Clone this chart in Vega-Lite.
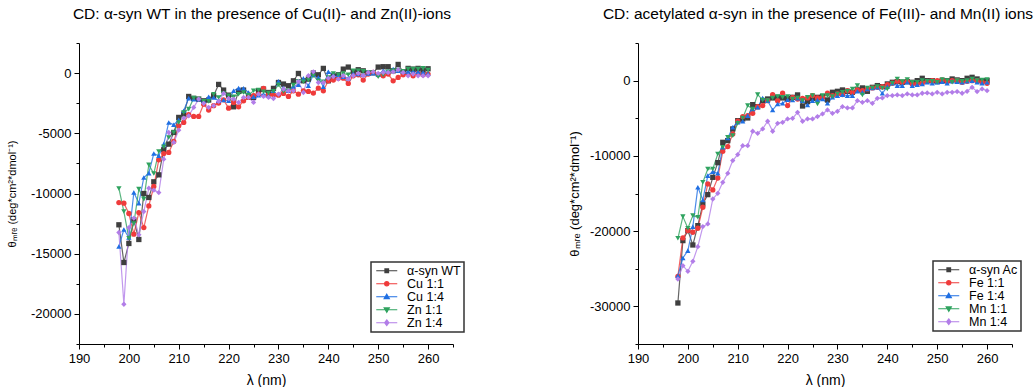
{
"$schema": "https://vega.github.io/schema/vega-lite/v6.json",
"bounds": "flush",
"spacing": 185,
"padding": {"left": 6, "top": 6, "right": 0, "bottom": 0},
"config": {
  "view": {"stroke": null},
  "font": "Liberation Sans",
  "axis": {"grid": false, "domainColor": "#000", "tickColor": "#000", "labelColor": "#000", "titleColor": "#000", "labelFont": "Liberation Sans", "titleFont": "Liberation Sans", "titleFontWeight": "normal", "labelFontSize": 13, "domainWidth": 1, "tickWidth": 1},
  "title": {"font": "Liberation Sans", "fontSize": 15.5, "fontWeight": "normal", "color": "#000", "baseline": "alphabetic", "offset": 15, "anchor": "middle"},
  "legend": {"labelFont": "Liberation Sans", "labelFontSize": 12.5, "labelColor": "#000", "strokeColor": "#333", "strokeWidth": 1.5, "fillColor": "#fff", "padding": 2.5, "rowPadding": 0, "symbolSize": 36, "symbolOffset": 7, "labelOffset": 14, "symbolStrokeWidth": 1.2}
},
"datasets": {
"L": [
{"s":"α-syn WT","x":198,"y":-12600},{"s":"α-syn WT","x":199,"y":-15730},{"s":"α-syn WT","x":200,"y":-14150},{"s":"α-syn WT","x":201,"y":-12200},{"s":"α-syn WT","x":202,"y":-13820},{"s":"α-syn WT","x":203,"y":-10000},{"s":"α-syn WT","x":204,"y":-10330},{"s":"α-syn WT","x":205,"y":-9030},{"s":"α-syn WT","x":206,"y":-8450},{"s":"α-syn WT","x":207,"y":-6370},{"s":"α-syn WT","x":208,"y":-5900},{"s":"α-syn WT","x":209,"y":-4930},{"s":"α-syn WT","x":210,"y":-3680},{"s":"α-syn WT","x":211,"y":-3400},{"s":"α-syn WT","x":212,"y":-1940},{"s":"α-syn WT","x":213,"y":-2100},{"s":"α-syn WT","x":214,"y":-2160},{"s":"α-syn WT","x":215,"y":-2300},{"s":"α-syn WT","x":216,"y":-2240},{"s":"α-syn WT","x":217,"y":-1880},{"s":"α-syn WT","x":218,"y":-940},{"s":"α-syn WT","x":219,"y":-1410},{"s":"α-syn WT","x":220,"y":-1830},{"s":"α-syn WT","x":221,"y":-2800},{"s":"α-syn WT","x":222,"y":-1520},{"s":"α-syn WT","x":223,"y":-1410},{"s":"α-syn WT","x":224,"y":-1970},{"s":"α-syn WT","x":225,"y":-2020},{"s":"α-syn WT","x":226,"y":-1470},{"s":"α-syn WT","x":227,"y":-1330},{"s":"α-syn WT","x":228,"y":-1610},{"s":"α-syn WT","x":229,"y":-1270},{"s":"α-syn WT","x":230,"y":-780},{"s":"α-syn WT","x":231,"y":-910},{"s":"α-syn WT","x":232,"y":-1050},{"s":"α-syn WT","x":233,"y":-640},{"s":"α-syn WT","x":234,"y":-30},{"s":"α-syn WT","x":235,"y":-640},{"s":"α-syn WT","x":236,"y":-500},{"s":"α-syn WT","x":237,"y":0},{"s":"α-syn WT","x":238,"y":-140},{"s":"α-syn WT","x":239,"y":390},{"s":"α-syn WT","x":240,"y":-640},{"s":"α-syn WT","x":241,"y":-250},{"s":"α-syn WT","x":242,"y":-140},{"s":"α-syn WT","x":243,"y":330},{"s":"α-syn WT","x":244,"y":500},{"s":"α-syn WT","x":245,"y":110},{"s":"α-syn WT","x":246,"y":280},{"s":"α-syn WT","x":247,"y":190},{"s":"α-syn WT","x":248,"y":0},{"s":"α-syn WT","x":249,"y":30},{"s":"α-syn WT","x":250,"y":500},{"s":"α-syn WT","x":251,"y":530},{"s":"α-syn WT","x":252,"y":530},{"s":"α-syn WT","x":253,"y":190},{"s":"α-syn WT","x":254,"y":720},{"s":"α-syn WT","x":255,"y":110},{"s":"α-syn WT","x":256,"y":390},{"s":"α-syn WT","x":257,"y":330},{"s":"α-syn WT","x":258,"y":390},{"s":"α-syn WT","x":259,"y":250},{"s":"α-syn WT","x":260,"y":360},
{"s":"Cu 1:1","x":198,"y":-10750},{"s":"Cu 1:1","x":199,"y":-10800},{"s":"Cu 1:1","x":200,"y":-11660},{"s":"Cu 1:1","x":201,"y":-13380},{"s":"Cu 1:1","x":202,"y":-11580},{"s":"Cu 1:1","x":203,"y":-12830},{"s":"Cu 1:1","x":204,"y":-11030},{"s":"Cu 1:1","x":205,"y":-9420},{"s":"Cu 1:1","x":206,"y":-7200},{"s":"Cu 1:1","x":207,"y":-6680},{"s":"Cu 1:1","x":208,"y":-6590},{"s":"Cu 1:1","x":209,"y":-5680},{"s":"Cu 1:1","x":210,"y":-4380},{"s":"Cu 1:1","x":211,"y":-4100},{"s":"Cu 1:1","x":212,"y":-3460},{"s":"Cu 1:1","x":213,"y":-3600},{"s":"Cu 1:1","x":214,"y":-3600},{"s":"Cu 1:1","x":215,"y":-2580},{"s":"Cu 1:1","x":216,"y":-3070},{"s":"Cu 1:1","x":217,"y":-2710},{"s":"Cu 1:1","x":218,"y":-2490},{"s":"Cu 1:1","x":219,"y":-2220},{"s":"Cu 1:1","x":220,"y":-2910},{"s":"Cu 1:1","x":221,"y":-2440},{"s":"Cu 1:1","x":222,"y":-2800},{"s":"Cu 1:1","x":223,"y":-2300},{"s":"Cu 1:1","x":224,"y":-2020},{"s":"Cu 1:1","x":225,"y":-1880},{"s":"Cu 1:1","x":226,"y":-1750},{"s":"Cu 1:1","x":227,"y":-1270},{"s":"Cu 1:1","x":228,"y":-1800},{"s":"Cu 1:1","x":229,"y":-1800},{"s":"Cu 1:1","x":230,"y":-1830},{"s":"Cu 1:1","x":231,"y":-1690},{"s":"Cu 1:1","x":232,"y":-1940},{"s":"Cu 1:1","x":233,"y":-1470},{"s":"Cu 1:1","x":234,"y":-1750},{"s":"Cu 1:1","x":235,"y":-1470},{"s":"Cu 1:1","x":236,"y":-1520},{"s":"Cu 1:1","x":237,"y":-1660},{"s":"Cu 1:1","x":238,"y":-1250},{"s":"Cu 1:1","x":239,"y":-1470},{"s":"Cu 1:1","x":240,"y":-640},{"s":"Cu 1:1","x":241,"y":-580},{"s":"Cu 1:1","x":242,"y":-420},{"s":"Cu 1:1","x":243,"y":-420},{"s":"Cu 1:1","x":244,"y":-860},{"s":"Cu 1:1","x":245,"y":-220},{"s":"Cu 1:1","x":246,"y":-140},{"s":"Cu 1:1","x":247,"y":-580},{"s":"Cu 1:1","x":248,"y":-80},{"s":"Cu 1:1","x":249,"y":50},{"s":"Cu 1:1","x":250,"y":-140},{"s":"Cu 1:1","x":251,"y":-220},{"s":"Cu 1:1","x":252,"y":-80},{"s":"Cu 1:1","x":253,"y":-640},{"s":"Cu 1:1","x":254,"y":-360},{"s":"Cu 1:1","x":255,"y":-140},{"s":"Cu 1:1","x":256,"y":-80},{"s":"Cu 1:1","x":257,"y":-220},{"s":"Cu 1:1","x":258,"y":-30},{"s":"Cu 1:1","x":259,"y":-140},{"s":"Cu 1:1","x":260,"y":-80},
{"s":"Cu 1:4","x":198,"y":-14400},{"s":"Cu 1:4","x":199,"y":-12990},{"s":"Cu 1:4","x":200,"y":-13660},{"s":"Cu 1:4","x":201,"y":-9920},{"s":"Cu 1:4","x":202,"y":-10800},{"s":"Cu 1:4","x":203,"y":-8670},{"s":"Cu 1:4","x":204,"y":-8310},{"s":"Cu 1:4","x":205,"y":-6680},{"s":"Cu 1:4","x":206,"y":-6870},{"s":"Cu 1:4","x":207,"y":-5900},{"s":"Cu 1:4","x":208,"y":-4100},{"s":"Cu 1:4","x":209,"y":-4290},{"s":"Cu 1:4","x":210,"y":-3880},{"s":"Cu 1:4","x":211,"y":-3130},{"s":"Cu 1:4","x":212,"y":-2080},{"s":"Cu 1:4","x":213,"y":-2160},{"s":"Cu 1:4","x":214,"y":-2160},{"s":"Cu 1:4","x":215,"y":-2300},{"s":"Cu 1:4","x":216,"y":-1970},{"s":"Cu 1:4","x":217,"y":-2020},{"s":"Cu 1:4","x":218,"y":-2300},{"s":"Cu 1:4","x":219,"y":-2240},{"s":"Cu 1:4","x":220,"y":-2300},{"s":"Cu 1:4","x":221,"y":-1470},{"s":"Cu 1:4","x":222,"y":-1250},{"s":"Cu 1:4","x":223,"y":-1270},{"s":"Cu 1:4","x":224,"y":-1610},{"s":"Cu 1:4","x":225,"y":-1970},{"s":"Cu 1:4","x":226,"y":-1830},{"s":"Cu 1:4","x":227,"y":-1750},{"s":"Cu 1:4","x":228,"y":-1880},{"s":"Cu 1:4","x":229,"y":-1470},{"s":"Cu 1:4","x":230,"y":-690},{"s":"Cu 1:4","x":231,"y":-1250},{"s":"Cu 1:4","x":232,"y":-1470},{"s":"Cu 1:4","x":233,"y":-1110},{"s":"Cu 1:4","x":234,"y":-970},{"s":"Cu 1:4","x":235,"y":-440},{"s":"Cu 1:4","x":236,"y":-1050},{"s":"Cu 1:4","x":237,"y":-140},{"s":"Cu 1:4","x":238,"y":-360},{"s":"Cu 1:4","x":239,"y":-1140},{"s":"Cu 1:4","x":240,"y":110},{"s":"Cu 1:4","x":241,"y":-140},{"s":"Cu 1:4","x":242,"y":-140},{"s":"Cu 1:4","x":243,"y":-300},{"s":"Cu 1:4","x":244,"y":-420},{"s":"Cu 1:4","x":245,"y":-30},{"s":"Cu 1:4","x":246,"y":-80},{"s":"Cu 1:4","x":247,"y":-140},{"s":"Cu 1:4","x":248,"y":-30},{"s":"Cu 1:4","x":249,"y":0},{"s":"Cu 1:4","x":250,"y":-140},{"s":"Cu 1:4","x":251,"y":190},{"s":"Cu 1:4","x":252,"y":140},{"s":"Cu 1:4","x":253,"y":330},{"s":"Cu 1:4","x":254,"y":190},{"s":"Cu 1:4","x":255,"y":140},{"s":"Cu 1:4","x":256,"y":110},{"s":"Cu 1:4","x":257,"y":140},{"s":"Cu 1:4","x":258,"y":110},{"s":"Cu 1:4","x":259,"y":50},{"s":"Cu 1:4","x":260,"y":-30},
{"s":"Zn 1:1","x":198,"y":-9580},{"s":"Zn 1:1","x":199,"y":-11500},{"s":"Zn 1:1","x":200,"y":-13710},{"s":"Zn 1:1","x":201,"y":-12490},{"s":"Zn 1:1","x":202,"y":-9640},{"s":"Zn 1:1","x":203,"y":-10470},{"s":"Zn 1:1","x":204,"y":-7620},{"s":"Zn 1:1","x":205,"y":-8340},{"s":"Zn 1:1","x":206,"y":-6510},{"s":"Zn 1:1","x":207,"y":-6120},{"s":"Zn 1:1","x":208,"y":-5350},{"s":"Zn 1:1","x":209,"y":-4930},{"s":"Zn 1:1","x":210,"y":-4100},{"s":"Zn 1:1","x":211,"y":-3270},{"s":"Zn 1:1","x":212,"y":-2990},{"s":"Zn 1:1","x":213,"y":-2080},{"s":"Zn 1:1","x":214,"y":-2160},{"s":"Zn 1:1","x":215,"y":-2350},{"s":"Zn 1:1","x":216,"y":-2350},{"s":"Zn 1:1","x":217,"y":-1750},{"s":"Zn 1:1","x":218,"y":-2020},{"s":"Zn 1:1","x":219,"y":-1690},{"s":"Zn 1:1","x":220,"y":-1880},{"s":"Zn 1:1","x":221,"y":-1970},{"s":"Zn 1:1","x":222,"y":-1750},{"s":"Zn 1:1","x":223,"y":-1610},{"s":"Zn 1:1","x":224,"y":-1830},{"s":"Zn 1:1","x":225,"y":-1470},{"s":"Zn 1:1","x":226,"y":-1410},{"s":"Zn 1:1","x":227,"y":-1550},{"s":"Zn 1:1","x":228,"y":-1660},{"s":"Zn 1:1","x":229,"y":-1520},{"s":"Zn 1:1","x":230,"y":-970},{"s":"Zn 1:1","x":231,"y":-1520},{"s":"Zn 1:1","x":232,"y":-1470},{"s":"Zn 1:1","x":233,"y":-1000},{"s":"Zn 1:1","x":234,"y":-690},{"s":"Zn 1:1","x":235,"y":-720},{"s":"Zn 1:1","x":236,"y":-580},{"s":"Zn 1:1","x":237,"y":-220},{"s":"Zn 1:1","x":238,"y":-640},{"s":"Zn 1:1","x":239,"y":-720},{"s":"Zn 1:1","x":240,"y":-360},{"s":"Zn 1:1","x":241,"y":-30},{"s":"Zn 1:1","x":242,"y":-140},{"s":"Zn 1:1","x":243,"y":-30},{"s":"Zn 1:1","x":244,"y":-140},{"s":"Zn 1:1","x":245,"y":190},{"s":"Zn 1:1","x":246,"y":190},{"s":"Zn 1:1","x":247,"y":140},{"s":"Zn 1:1","x":248,"y":50},{"s":"Zn 1:1","x":249,"y":50},{"s":"Zn 1:1","x":250,"y":-300},{"s":"Zn 1:1","x":251,"y":-140},{"s":"Zn 1:1","x":252,"y":110},{"s":"Zn 1:1","x":253,"y":190},{"s":"Zn 1:1","x":254,"y":250},{"s":"Zn 1:1","x":255,"y":140},{"s":"Zn 1:1","x":256,"y":330},{"s":"Zn 1:1","x":257,"y":330},{"s":"Zn 1:1","x":258,"y":330},{"s":"Zn 1:1","x":259,"y":390},{"s":"Zn 1:1","x":260,"y":250},
{"s":"Zn 1:4","x":198,"y":-13240},{"s":"Zn 1:4","x":199,"y":-19200},{"s":"Zn 1:4","x":200,"y":-12830},{"s":"Zn 1:4","x":201,"y":-12050},{"s":"Zn 1:4","x":202,"y":-13430},{"s":"Zn 1:4","x":203,"y":-11500},{"s":"Zn 1:4","x":204,"y":-9560},{"s":"Zn 1:4","x":205,"y":-9720},{"s":"Zn 1:4","x":206,"y":-9920},{"s":"Zn 1:4","x":207,"y":-7150},{"s":"Zn 1:4","x":208,"y":-4930},{"s":"Zn 1:4","x":209,"y":-5760},{"s":"Zn 1:4","x":210,"y":-4740},{"s":"Zn 1:4","x":211,"y":-3740},{"s":"Zn 1:4","x":212,"y":-3550},{"s":"Zn 1:4","x":213,"y":-2850},{"s":"Zn 1:4","x":214,"y":-2160},{"s":"Zn 1:4","x":215,"y":-2520},{"s":"Zn 1:4","x":216,"y":-2850},{"s":"Zn 1:4","x":217,"y":-2710},{"s":"Zn 1:4","x":218,"y":-2350},{"s":"Zn 1:4","x":219,"y":-1690},{"s":"Zn 1:4","x":220,"y":-2110},{"s":"Zn 1:4","x":221,"y":-2160},{"s":"Zn 1:4","x":222,"y":-2440},{"s":"Zn 1:4","x":223,"y":-2020},{"s":"Zn 1:4","x":224,"y":-2020},{"s":"Zn 1:4","x":225,"y":-2440},{"s":"Zn 1:4","x":226,"y":-1750},{"s":"Zn 1:4","x":227,"y":-1940},{"s":"Zn 1:4","x":228,"y":-2020},{"s":"Zn 1:4","x":229,"y":-2110},{"s":"Zn 1:4","x":230,"y":-1750},{"s":"Zn 1:4","x":231,"y":-1330},{"s":"Zn 1:4","x":232,"y":-1470},{"s":"Zn 1:4","x":233,"y":-1470},{"s":"Zn 1:4","x":234,"y":-690},{"s":"Zn 1:4","x":235,"y":-1610},{"s":"Zn 1:4","x":236,"y":-220},{"s":"Zn 1:4","x":237,"y":110},{"s":"Zn 1:4","x":238,"y":-780},{"s":"Zn 1:4","x":239,"y":-780},{"s":"Zn 1:4","x":240,"y":-420},{"s":"Zn 1:4","x":241,"y":-300},{"s":"Zn 1:4","x":242,"y":-500},{"s":"Zn 1:4","x":243,"y":-220},{"s":"Zn 1:4","x":244,"y":-500},{"s":"Zn 1:4","x":245,"y":-220},{"s":"Zn 1:4","x":246,"y":-30},{"s":"Zn 1:4","x":247,"y":-220},{"s":"Zn 1:4","x":248,"y":50},{"s":"Zn 1:4","x":249,"y":110},{"s":"Zn 1:4","x":250,"y":-30},{"s":"Zn 1:4","x":251,"y":50},{"s":"Zn 1:4","x":252,"y":50},{"s":"Zn 1:4","x":253,"y":110},{"s":"Zn 1:4","x":254,"y":280},{"s":"Zn 1:4","x":255,"y":50},{"s":"Zn 1:4","x":256,"y":-220},{"s":"Zn 1:4","x":257,"y":-80},{"s":"Zn 1:4","x":258,"y":-220},{"s":"Zn 1:4","x":259,"y":-220},{"s":"Zn 1:4","x":260,"y":-220}
],
"R": [
{"s":"α-syn Ac","x":198,"y":-29550},{"s":"α-syn Ac","x":199,"y":-21260},{"s":"α-syn Ac","x":200,"y":-19930},{"s":"α-syn Ac","x":201,"y":-21840},{"s":"α-syn Ac","x":202,"y":-19270},{"s":"α-syn Ac","x":203,"y":-16390},{"s":"α-syn Ac","x":204,"y":-15150},{"s":"α-syn Ac","x":205,"y":-12850},{"s":"α-syn Ac","x":206,"y":-10900},{"s":"α-syn Ac","x":207,"y":-8200},{"s":"α-syn Ac","x":208,"y":-7970},{"s":"α-syn Ac","x":209,"y":-6420},{"s":"α-syn Ac","x":210,"y":-5320},{"s":"α-syn Ac","x":211,"y":-5090},{"s":"α-syn Ac","x":212,"y":-4960},{"s":"α-syn Ac","x":213,"y":-3190},{"s":"α-syn Ac","x":214,"y":-3460},{"s":"α-syn Ac","x":215,"y":-2660},{"s":"α-syn Ac","x":216,"y":-2440},{"s":"α-syn Ac","x":217,"y":-2300},{"s":"α-syn Ac","x":218,"y":-2220},{"s":"α-syn Ac","x":219,"y":-2300},{"s":"α-syn Ac","x":220,"y":-2350},{"s":"α-syn Ac","x":221,"y":-2220},{"s":"α-syn Ac","x":222,"y":-1900},{"s":"α-syn Ac","x":223,"y":-3370},{"s":"α-syn Ac","x":224,"y":-2790},{"s":"α-syn Ac","x":225,"y":-2350},{"s":"α-syn Ac","x":226,"y":-2220},{"s":"α-syn Ac","x":227,"y":-2130},{"s":"α-syn Ac","x":228,"y":-2570},{"s":"α-syn Ac","x":229,"y":-1550},{"s":"α-syn Ac","x":230,"y":-1420},{"s":"α-syn Ac","x":231,"y":-1240},{"s":"α-syn Ac","x":232,"y":-1420},{"s":"α-syn Ac","x":233,"y":-1550},{"s":"α-syn Ac","x":234,"y":-1240},{"s":"α-syn Ac","x":235,"y":-970},{"s":"α-syn Ac","x":236,"y":-1420},{"s":"α-syn Ac","x":237,"y":-890},{"s":"α-syn Ac","x":238,"y":-660},{"s":"α-syn Ac","x":239,"y":-800},{"s":"α-syn Ac","x":240,"y":-440},{"s":"α-syn Ac","x":241,"y":-220},{"s":"α-syn Ac","x":242,"y":-130},{"s":"α-syn Ac","x":243,"y":-220},{"s":"α-syn Ac","x":244,"y":-130},{"s":"α-syn Ac","x":245,"y":-220},{"s":"α-syn Ac","x":246,"y":0},{"s":"α-syn Ac","x":247,"y":310},{"s":"α-syn Ac","x":248,"y":0},{"s":"α-syn Ac","x":249,"y":0},{"s":"α-syn Ac","x":250,"y":-130},{"s":"α-syn Ac","x":251,"y":0},{"s":"α-syn Ac","x":252,"y":0},{"s":"α-syn Ac","x":253,"y":220},{"s":"α-syn Ac","x":254,"y":90},{"s":"α-syn Ac","x":255,"y":0},{"s":"α-syn Ac","x":256,"y":310},{"s":"α-syn Ac","x":257,"y":440},{"s":"α-syn Ac","x":258,"y":220},{"s":"α-syn Ac","x":259,"y":0},{"s":"α-syn Ac","x":260,"y":0},
{"s":"Fe 1:1","x":198,"y":-26000},{"s":"Fe 1:1","x":199,"y":-20900},{"s":"Fe 1:1","x":200,"y":-19930},{"s":"Fe 1:1","x":201,"y":-20150},{"s":"Fe 1:1","x":202,"y":-19620},{"s":"Fe 1:1","x":203,"y":-16830},{"s":"Fe 1:1","x":204,"y":-13730},{"s":"Fe 1:1","x":205,"y":-14530},{"s":"Fe 1:1","x":206,"y":-12940},{"s":"Fe 1:1","x":207,"y":-9390},{"s":"Fe 1:1","x":208,"y":-8770},{"s":"Fe 1:1","x":209,"y":-7090},{"s":"Fe 1:1","x":210,"y":-5400},{"s":"Fe 1:1","x":211,"y":-4780},{"s":"Fe 1:1","x":212,"y":-4650},{"s":"Fe 1:1","x":213,"y":-4340},{"s":"Fe 1:1","x":214,"y":-3460},{"s":"Fe 1:1","x":215,"y":-3320},{"s":"Fe 1:1","x":216,"y":-2660},{"s":"Fe 1:1","x":217,"y":-1860},{"s":"Fe 1:1","x":218,"y":-2660},{"s":"Fe 1:1","x":219,"y":-1680},{"s":"Fe 1:1","x":220,"y":-3320},{"s":"Fe 1:1","x":221,"y":-2220},{"s":"Fe 1:1","x":222,"y":-2440},{"s":"Fe 1:1","x":223,"y":-2350},{"s":"Fe 1:1","x":224,"y":-2300},{"s":"Fe 1:1","x":225,"y":-1990},{"s":"Fe 1:1","x":226,"y":-2300},{"s":"Fe 1:1","x":227,"y":-2220},{"s":"Fe 1:1","x":228,"y":-1680},{"s":"Fe 1:1","x":229,"y":-1990},{"s":"Fe 1:1","x":230,"y":-1770},{"s":"Fe 1:1","x":231,"y":-1860},{"s":"Fe 1:1","x":232,"y":-1330},{"s":"Fe 1:1","x":233,"y":-1550},{"s":"Fe 1:1","x":234,"y":-1240},{"s":"Fe 1:1","x":235,"y":-1330},{"s":"Fe 1:1","x":236,"y":-1110},{"s":"Fe 1:1","x":237,"y":-970},{"s":"Fe 1:1","x":238,"y":-890},{"s":"Fe 1:1","x":239,"y":-800},{"s":"Fe 1:1","x":240,"y":-530},{"s":"Fe 1:1","x":241,"y":-350},{"s":"Fe 1:1","x":242,"y":-90},{"s":"Fe 1:1","x":243,"y":-220},{"s":"Fe 1:1","x":244,"y":-90},{"s":"Fe 1:1","x":245,"y":-440},{"s":"Fe 1:1","x":246,"y":-440},{"s":"Fe 1:1","x":247,"y":-350},{"s":"Fe 1:1","x":248,"y":-90},{"s":"Fe 1:1","x":249,"y":0},{"s":"Fe 1:1","x":250,"y":0},{"s":"Fe 1:1","x":251,"y":90},{"s":"Fe 1:1","x":252,"y":-90},{"s":"Fe 1:1","x":253,"y":0},{"s":"Fe 1:1","x":254,"y":0},{"s":"Fe 1:1","x":255,"y":-220},{"s":"Fe 1:1","x":256,"y":-90},{"s":"Fe 1:1","x":257,"y":0},{"s":"Fe 1:1","x":258,"y":0},{"s":"Fe 1:1","x":259,"y":-220},{"s":"Fe 1:1","x":260,"y":-350},
{"s":"Fe 1:4","x":198,"y":-25920},{"s":"Fe 1:4","x":199,"y":-23570},{"s":"Fe 1:4","x":200,"y":-22590},{"s":"Fe 1:4","x":201,"y":-19400},{"s":"Fe 1:4","x":202,"y":-14180},{"s":"Fe 1:4","x":203,"y":-15860},{"s":"Fe 1:4","x":204,"y":-12630},{"s":"Fe 1:4","x":205,"y":-12090},{"s":"Fe 1:4","x":206,"y":-12320},{"s":"Fe 1:4","x":207,"y":-8860},{"s":"Fe 1:4","x":208,"y":-7620},{"s":"Fe 1:4","x":209,"y":-6200},{"s":"Fe 1:4","x":210,"y":-5540},{"s":"Fe 1:4","x":211,"y":-5400},{"s":"Fe 1:4","x":212,"y":-4650},{"s":"Fe 1:4","x":213,"y":-3770},{"s":"Fe 1:4","x":214,"y":-3540},{"s":"Fe 1:4","x":215,"y":-2300},{"s":"Fe 1:4","x":216,"y":-2660},{"s":"Fe 1:4","x":217,"y":-3900},{"s":"Fe 1:4","x":218,"y":-3100},{"s":"Fe 1:4","x":219,"y":-3010},{"s":"Fe 1:4","x":220,"y":-2530},{"s":"Fe 1:4","x":221,"y":-2570},{"s":"Fe 1:4","x":222,"y":-2350},{"s":"Fe 1:4","x":223,"y":-2660},{"s":"Fe 1:4","x":224,"y":-3230},{"s":"Fe 1:4","x":225,"y":-2660},{"s":"Fe 1:4","x":226,"y":-2570},{"s":"Fe 1:4","x":227,"y":-2440},{"s":"Fe 1:4","x":228,"y":-3010},{"s":"Fe 1:4","x":229,"y":-2220},{"s":"Fe 1:4","x":230,"y":-1990},{"s":"Fe 1:4","x":231,"y":-1860},{"s":"Fe 1:4","x":232,"y":-1990},{"s":"Fe 1:4","x":233,"y":-1990},{"s":"Fe 1:4","x":234,"y":-1420},{"s":"Fe 1:4","x":235,"y":-1550},{"s":"Fe 1:4","x":236,"y":-1110},{"s":"Fe 1:4","x":237,"y":-970},{"s":"Fe 1:4","x":238,"y":-890},{"s":"Fe 1:4","x":239,"y":-1680},{"s":"Fe 1:4","x":240,"y":-800},{"s":"Fe 1:4","x":241,"y":-350},{"s":"Fe 1:4","x":242,"y":-660},{"s":"Fe 1:4","x":243,"y":-660},{"s":"Fe 1:4","x":244,"y":-220},{"s":"Fe 1:4","x":245,"y":-660},{"s":"Fe 1:4","x":246,"y":-530},{"s":"Fe 1:4","x":247,"y":-440},{"s":"Fe 1:4","x":248,"y":-220},{"s":"Fe 1:4","x":249,"y":-350},{"s":"Fe 1:4","x":250,"y":-220},{"s":"Fe 1:4","x":251,"y":-130},{"s":"Fe 1:4","x":252,"y":-350},{"s":"Fe 1:4","x":253,"y":-90},{"s":"Fe 1:4","x":254,"y":-130},{"s":"Fe 1:4","x":255,"y":-220},{"s":"Fe 1:4","x":256,"y":-90},{"s":"Fe 1:4","x":257,"y":0},{"s":"Fe 1:4","x":258,"y":-220},{"s":"Fe 1:4","x":259,"y":-350},{"s":"Fe 1:4","x":260,"y":-220},
{"s":"Mn 1:1","x":198,"y":-20950},{"s":"Mn 1:1","x":199,"y":-18070},{"s":"Mn 1:1","x":200,"y":-19620},{"s":"Mn 1:1","x":201,"y":-17940},{"s":"Mn 1:1","x":202,"y":-18160},{"s":"Mn 1:1","x":203,"y":-13510},{"s":"Mn 1:1","x":204,"y":-11740},{"s":"Mn 1:1","x":205,"y":-11740},{"s":"Mn 1:1","x":206,"y":-9750},{"s":"Mn 1:1","x":207,"y":-8860},{"s":"Mn 1:1","x":208,"y":-7530},{"s":"Mn 1:1","x":209,"y":-7310},{"s":"Mn 1:1","x":210,"y":-5670},{"s":"Mn 1:1","x":211,"y":-4960},{"s":"Mn 1:1","x":212,"y":-3320},{"s":"Mn 1:1","x":213,"y":-3770},{"s":"Mn 1:1","x":214,"y":-1860},{"s":"Mn 1:1","x":215,"y":-2570},{"s":"Mn 1:1","x":216,"y":-2660},{"s":"Mn 1:1","x":217,"y":-2300},{"s":"Mn 1:1","x":218,"y":-2130},{"s":"Mn 1:1","x":219,"y":-2220},{"s":"Mn 1:1","x":220,"y":-2130},{"s":"Mn 1:1","x":221,"y":-2440},{"s":"Mn 1:1","x":222,"y":-2300},{"s":"Mn 1:1","x":223,"y":-2660},{"s":"Mn 1:1","x":224,"y":-2220},{"s":"Mn 1:1","x":225,"y":-1990},{"s":"Mn 1:1","x":226,"y":-3100},{"s":"Mn 1:1","x":227,"y":-1990},{"s":"Mn 1:1","x":228,"y":-1990},{"s":"Mn 1:1","x":229,"y":-2130},{"s":"Mn 1:1","x":230,"y":-1770},{"s":"Mn 1:1","x":231,"y":-1550},{"s":"Mn 1:1","x":232,"y":-1420},{"s":"Mn 1:1","x":233,"y":-1110},{"s":"Mn 1:1","x":234,"y":-660},{"s":"Mn 1:1","x":235,"y":-1900},{"s":"Mn 1:1","x":236,"y":-970},{"s":"Mn 1:1","x":237,"y":-970},{"s":"Mn 1:1","x":238,"y":-800},{"s":"Mn 1:1","x":239,"y":-970},{"s":"Mn 1:1","x":240,"y":-1110},{"s":"Mn 1:1","x":241,"y":-350},{"s":"Mn 1:1","x":242,"y":220},{"s":"Mn 1:1","x":243,"y":-130},{"s":"Mn 1:1","x":244,"y":130},{"s":"Mn 1:1","x":245,"y":-220},{"s":"Mn 1:1","x":246,"y":-220},{"s":"Mn 1:1","x":247,"y":0},{"s":"Mn 1:1","x":248,"y":-90},{"s":"Mn 1:1","x":249,"y":-90},{"s":"Mn 1:1","x":250,"y":-220},{"s":"Mn 1:1","x":251,"y":130},{"s":"Mn 1:1","x":252,"y":0},{"s":"Mn 1:1","x":253,"y":-220},{"s":"Mn 1:1","x":254,"y":0},{"s":"Mn 1:1","x":255,"y":-90},{"s":"Mn 1:1","x":256,"y":0},{"s":"Mn 1:1","x":257,"y":220},{"s":"Mn 1:1","x":258,"y":0},{"s":"Mn 1:1","x":259,"y":90},{"s":"Mn 1:1","x":260,"y":130},
{"s":"Mn 1:4","x":198,"y":-26360},{"s":"Mn 1:4","x":199,"y":-24590},{"s":"Mn 1:4","x":200,"y":-25340},{"s":"Mn 1:4","x":201,"y":-24010},{"s":"Mn 1:4","x":202,"y":-22060},{"s":"Mn 1:4","x":203,"y":-19400},{"s":"Mn 1:4","x":204,"y":-19050},{"s":"Mn 1:4","x":205,"y":-15730},{"s":"Mn 1:4","x":206,"y":-14970},{"s":"Mn 1:4","x":207,"y":-13510},{"s":"Mn 1:4","x":208,"y":-12320},{"s":"Mn 1:4","x":209,"y":-10630},{"s":"Mn 1:4","x":210,"y":-9830},{"s":"Mn 1:4","x":211,"y":-8640},{"s":"Mn 1:4","x":212,"y":-8640},{"s":"Mn 1:4","x":213,"y":-6730},{"s":"Mn 1:4","x":214,"y":-7000},{"s":"Mn 1:4","x":215,"y":-6420},{"s":"Mn 1:4","x":216,"y":-5400},{"s":"Mn 1:4","x":217,"y":-6730},{"s":"Mn 1:4","x":218,"y":-5670},{"s":"Mn 1:4","x":219,"y":-5540},{"s":"Mn 1:4","x":220,"y":-5090},{"s":"Mn 1:4","x":221,"y":-5010},{"s":"Mn 1:4","x":222,"y":-4210},{"s":"Mn 1:4","x":223,"y":-5400},{"s":"Mn 1:4","x":224,"y":-5090},{"s":"Mn 1:4","x":225,"y":-5090},{"s":"Mn 1:4","x":226,"y":-4780},{"s":"Mn 1:4","x":227,"y":-4430},{"s":"Mn 1:4","x":228,"y":-3900},{"s":"Mn 1:4","x":229,"y":-4340},{"s":"Mn 1:4","x":230,"y":-4080},{"s":"Mn 1:4","x":231,"y":-3460},{"s":"Mn 1:4","x":232,"y":-3630},{"s":"Mn 1:4","x":233,"y":-3630},{"s":"Mn 1:4","x":234,"y":-2660},{"s":"Mn 1:4","x":235,"y":-2880},{"s":"Mn 1:4","x":236,"y":-2660},{"s":"Mn 1:4","x":237,"y":-3010},{"s":"Mn 1:4","x":238,"y":-2350},{"s":"Mn 1:4","x":239,"y":-2300},{"s":"Mn 1:4","x":240,"y":-1990},{"s":"Mn 1:4","x":241,"y":-1990},{"s":"Mn 1:4","x":242,"y":-1900},{"s":"Mn 1:4","x":243,"y":-1990},{"s":"Mn 1:4","x":244,"y":-1770},{"s":"Mn 1:4","x":245,"y":-1900},{"s":"Mn 1:4","x":246,"y":-1900},{"s":"Mn 1:4","x":247,"y":-1680},{"s":"Mn 1:4","x":248,"y":-1640},{"s":"Mn 1:4","x":249,"y":-1770},{"s":"Mn 1:4","x":250,"y":-1550},{"s":"Mn 1:4","x":251,"y":-1770},{"s":"Mn 1:4","x":252,"y":-1550},{"s":"Mn 1:4","x":253,"y":-1550},{"s":"Mn 1:4","x":254,"y":-1460},{"s":"Mn 1:4","x":255,"y":-1680},{"s":"Mn 1:4","x":256,"y":-1420},{"s":"Mn 1:4","x":257,"y":-890},{"s":"Mn 1:4","x":258,"y":-1460},{"s":"Mn 1:4","x":259,"y":-1110},{"s":"Mn 1:4","x":260,"y":-1330}
]
},
"hconcat": [
{
  "width": 374, "height": 301,
  "title": {"text": "CD: α-syn WT in the presence of Cu(II)- and Zn(II)-ions", "dx": -4},
  "data": {"name": "L"},
  "encoding": {
    "x": {"field": "x", "type": "quantitative", "scale": {"domain": [190, 265], "nice": false, "zero": false},
      "axis": {"title": "λ (nm)", "titleFontSize": 14, "titlePadding": 8, "values": [190,195,200,205,210,215,220,225,230,235,240,245,250,255,260,265], "labelExpr": "datum.value % 10 === 0 ? '' + datum.value : ''", "tickSize": {"condition": {"test": "datum.value % 10 === 0", "value": 5}, "value": 3}, "labelPadding": 3, "labelFlush": false, "labelOverlap": false}},
    "y": {"field": "y", "type": "quantitative", "scale": {"domain": [-22500, 2500], "nice": false, "zero": false},
      "axis": {"title": "θₘᵣₑ (deg*cm²*dmol⁻¹)", "titleFontSize": 11, "titlePadding": 14, "minExtent": 48, "maxExtent": 48, "values": [-22500,-20000,-17500,-15000,-12500,-10000,-7500,-5000,-2500,0,2500], "labelExpr": "datum.value % 5000 === 0 ? '' + datum.value : ''", "tickSize": {"condition": {"test": "datum.value % 5000 === 0", "value": 5}, "value": 3}, "labelPadding": 3, "labelOverlap": false}},
    "color": {"field": "s", "type": "nominal",
      "scale": {"domain": ["α-syn WT","Cu 1:1","Cu 1:4","Zn 1:1","Zn 1:4"], "range": ["#3f3f3f","#ef3b3b","#1f6fe3","#2fa35f","#b27de8"]},
      "legend": {"title": null, "orient": "none", "legendX": 292, "legendY": 219,
        "encode": {"symbols": {"update": {
          "shape": {"signal": "['M-3.5,0H3.5M-0.6,-0.6H0.6V0.6H-0.6Z','M-3.5,0H3.5M-0.7,0A0.7,0.7,0,1,1,0.7,0A0.7,0.7,0,1,1,-0.7,0Z','M-3.5,0H3.5M0,-0.85L0.85,0.6H-0.85Z','M-3.5,0H3.5M0,0.85L-0.85,-0.6H0.85Z','M-3.5,0H3.5M0,-0.95L0.7,0L0,0.95L-0.7,0Z'][indexof(['α-syn WT','Cu 1:1','Cu 1:4','Zn 1:1','Zn 1:4'], datum.value)]"},
          "stroke": {"signal": "['#3f3f3f','#ef3b3b','#1f6fe3','#2fa35f','#b27de8'][indexof(['α-syn WT','Cu 1:1','Cu 1:4','Zn 1:1','Zn 1:4'], datum.value)]"},
          "strokeWidth": {"value": 1.2}, "opacity": {"value": 1}}}}}}
  },
  "layer": [
    {"mark": {"type": "line", "strokeWidth": 1.2, "strokeOpacity": 0.8}},
    {"transform": [{"filter": "datum.s === 'α-syn WT'"}], "mark": {"type": "point", "filled": true, "size": 28, "opacity": 1, "shape": "square"}},
    {"transform": [{"filter": "datum.s === 'Cu 1:1'"}], "mark": {"type": "point", "filled": true, "size": 28, "opacity": 1, "shape": "circle"}},
    {"transform": [{"filter": "datum.s === 'Cu 1:4'"}], "mark": {"type": "point", "filled": true, "size": 28, "opacity": 1, "shape": "triangle-up"}},
    {"transform": [{"filter": "datum.s === 'Zn 1:1'"}], "mark": {"type": "point", "filled": true, "size": 28, "opacity": 1, "shape": "triangle-down"}},
    {"transform": [{"filter": "datum.s === 'Zn 1:4'"}], "mark": {"type": "point", "filled": true, "size": 28, "opacity": 1, "shape": "diamond"}}
  ]
},
{
  "width": 374, "height": 301,
  "title": {"text": "CD: acetylated α-syn in the presence of Fe(III)- and Mn(II) ions", "dx": -7},
  "data": {"name": "R"},
  "encoding": {
    "x": {"field": "x", "type": "quantitative", "scale": {"domain": [190, 265], "nice": false, "zero": false},
      "axis": {"title": "λ (nm)", "titleFontSize": 14, "titlePadding": 8, "values": [190,195,200,205,210,215,220,225,230,235,240,245,250,255,260,265], "labelExpr": "datum.value % 10 === 0 ? '' + datum.value : ''", "tickSize": {"condition": {"test": "datum.value % 10 === 0", "value": 5}, "value": 3}, "labelPadding": 3, "labelFlush": false, "labelOverlap": false}},
    "y": {"field": "y", "type": "quantitative", "scale": {"domain": [-35000, 5000], "nice": false, "zero": false},
      "axis": {"title": "θₘᵣₑ (deg*cm²*dmol⁻¹)", "titleFontSize": 13, "titlePadding": 10, "minExtent": 47, "maxExtent": 47, "values": [-35000,-30000,-25000,-20000,-15000,-10000,-5000,0,5000], "labelExpr": "datum.value % 10000 === 0 ? '' + datum.value : ''", "tickSize": {"condition": {"test": "datum.value % 10000 === 0", "value": 5}, "value": 3}, "labelPadding": 3, "labelOverlap": false}},
    "color": {"field": "s", "type": "nominal",
      "scale": {"domain": ["α-syn Ac","Fe 1:1","Fe 1:4","Mn 1:1","Mn 1:4"], "range": ["#3f3f3f","#ef3b3b","#1f6fe3","#2fa35f","#b27de8"]},
      "legend": {"title": null, "orient": "none", "legendX": 295, "legendY": 218,
        "encode": {"symbols": {"update": {
          "shape": {"signal": "['M-3.5,0H3.5M-0.6,-0.6H0.6V0.6H-0.6Z','M-3.5,0H3.5M-0.7,0A0.7,0.7,0,1,1,0.7,0A0.7,0.7,0,1,1,-0.7,0Z','M-3.5,0H3.5M0,-0.85L0.85,0.6H-0.85Z','M-3.5,0H3.5M0,0.85L-0.85,-0.6H0.85Z','M-3.5,0H3.5M0,-0.95L0.7,0L0,0.95L-0.7,0Z'][indexof(['α-syn Ac','Fe 1:1','Fe 1:4','Mn 1:1','Mn 1:4'], datum.value)]"},
          "stroke": {"signal": "['#3f3f3f','#ef3b3b','#1f6fe3','#2fa35f','#b27de8'][indexof(['α-syn Ac','Fe 1:1','Fe 1:4','Mn 1:1','Mn 1:4'], datum.value)]"},
          "strokeWidth": {"value": 1.2}, "opacity": {"value": 1}}}}}}
  },
  "layer": [
    {"mark": {"type": "line", "strokeWidth": 1.2, "strokeOpacity": 0.8}},
    {"transform": [{"filter": "datum.s === 'α-syn Ac'"}], "mark": {"type": "point", "filled": true, "size": 28, "opacity": 1, "shape": "square"}},
    {"transform": [{"filter": "datum.s === 'Fe 1:1'"}], "mark": {"type": "point", "filled": true, "size": 28, "opacity": 1, "shape": "circle"}},
    {"transform": [{"filter": "datum.s === 'Fe 1:4'"}], "mark": {"type": "point", "filled": true, "size": 28, "opacity": 1, "shape": "triangle-up"}},
    {"transform": [{"filter": "datum.s === 'Mn 1:1'"}], "mark": {"type": "point", "filled": true, "size": 28, "opacity": 1, "shape": "triangle-down"}},
    {"transform": [{"filter": "datum.s === 'Mn 1:4'"}], "mark": {"type": "point", "filled": true, "size": 28, "opacity": 1, "shape": "diamond"}}
  ]
}
],
"resolve": {"scale": {"color": "independent"}, "legend": {"color": "independent"}}
}
